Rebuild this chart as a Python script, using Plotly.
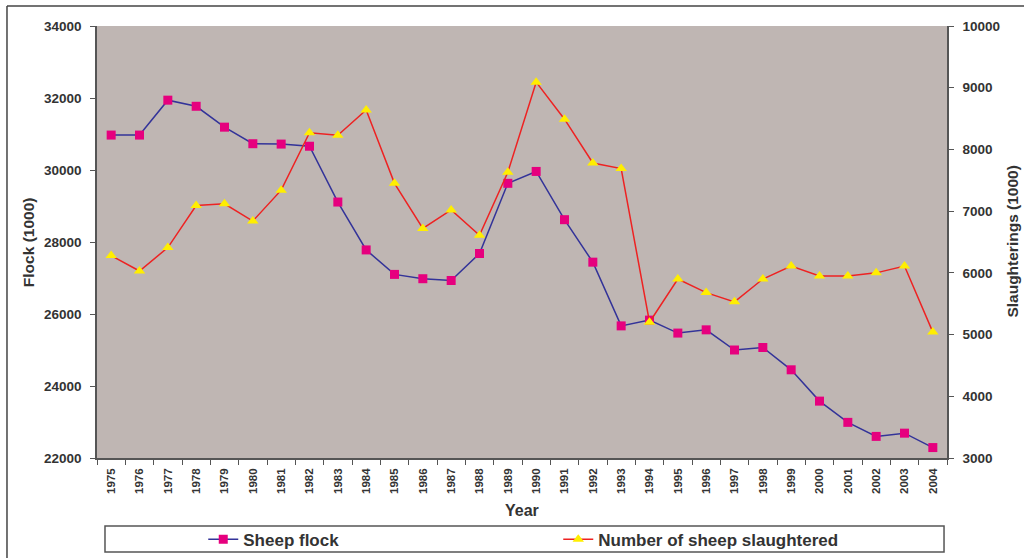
import plotly.graph_objects as go

years = [str(y) for y in range(1975, 2005)]

# Sheep flock (thousands)
flock = [30970, 30970, 31940, 31770, 31190, 30730, 30720, 30660, 29110, 27780,
         27100, 26980, 26930, 27680, 29630, 29960, 28620, 27440, 25670, 25830,
         25470, 25560, 25000, 25070, 24450, 23580, 22990, 22600, 22690, 22290]

# Number of sheep slaughtered (thousands)
slaughtered = [6280, 6030, 6410, 7090, 7120, 6840, 7340, 8270, 8230, 8640,
               7450, 6720, 7020, 6610, 7630, 9090, 8490, 7780, 7690, 5200,
               5900, 5680, 5530, 5900, 6110, 5950, 5950, 6000, 6110, 5040]

flock_ticks = [22000, 24000, 26000, 28000, 30000, 32000, 34000]
slaughter_ticks = [3000, 4000, 5000, 6000, 7000, 8000, 9000, 10000]

TXT = "#333333"
AX = "#555555"
FONT = "Liberation Sans"

fig = go.Figure()
fig.add_trace(go.Scatter(
    x=years, y=flock, name="Sheep flock", mode="lines+markers",
    line=dict(color="#333399", width=1.5),
    marker=dict(symbol="square", size=9, color="#e6007e", line=dict(width=0)),
))
fig.add_trace(go.Scatter(
    x=years, y=slaughtered, name="Number of sheep slaughtered", mode="lines+markers",
    yaxis="y2",
    line=dict(color="#ee2222", width=1.5),
    marker=dict(symbol="triangle-up", size=10, color="#ffee00", line=dict(width=0)),
))

ytickfont = dict(family=FONT, size=13.5, color=TXT, weight="bold")
xtickfont = dict(family=FONT, size=11.5, color=TXT, weight="bold")

fig.update_layout(
    width=1024, height=558,
    margin=dict(l=97, r=77, t=26, b=100, pad=0, autoexpand=False),
    paper_bgcolor="white",
    plot_bgcolor="#bfb6b3",
    showlegend=True,
    legend=dict(
        orientation="h", x=0.125, y=-0.189, xanchor="left", yanchor="middle",
        font=dict(family=FONT, size=17, color=TXT, weight="bold"),
        bgcolor="rgba(0,0,0,0)", borderwidth=0,
        entrywidth=310, entrywidthmode="pixels", itemwidth=30,
    ),
    xaxis=dict(
        type="category", range=[-0.5, 29.5], tickson="boundaries",
        ticks="outside", ticklen=5, tickcolor=AX, showline=True, linecolor=AX,
        linewidth=1.5, showgrid=False, tickangle=-90, tickfont=xtickfont,
        automargin=False, ticklabelstandoff=4,
    ),
    yaxis=dict(
        range=[22000, 34000], tickvals=flock_ticks, tickformat="d",
        ticks="outside", ticklen=5, tickcolor=AX, showline=True, linecolor=AX,
        linewidth=1.5, showgrid=False, zeroline=False, tickfont=ytickfont,
        ticklabelstandoff=6, automargin=False,
    ),
    yaxis2=dict(
        range=[3000, 10000], tickvals=slaughter_ticks, tickformat="d",
        overlaying="y", side="right", ticks="outside", ticklen=5, tickcolor=AX,
        showline=True, linecolor=AX, linewidth=1.5, showgrid=False,
        zeroline=False, tickfont=ytickfont, ticklabelstandoff=6, automargin=False,
    ),
    shapes=[
        # outer chart frame (top and left edges)
        dict(type="line", xref="paper", yref="paper", x0=-0.1059, x1=1.1,
             y0=1.0463, y1=1.0463, line=dict(color="#444444", width=1.5)),
        dict(type="line", xref="paper", yref="paper", x0=-0.1059, x1=-0.1059,
             y0=1.0463, y1=-0.24, line=dict(color="#444444", width=1.5)),
        # legend box
        dict(type="rect", xref="paper", yref="paper", x0=0.0094, x1=0.9965,
             y0=-0.2176, y1=-0.1574, line=dict(color="#555555", width=1.5),
             fillcolor="rgba(0,0,0,0)"),
    ],
    annotations=[
        dict(text="Year", xref="paper", yref="paper", x=0.5, y=-0.121,
             showarrow=False, xanchor="center", yanchor="middle",
             font=dict(family=FONT, size=16, color=TXT, weight="bold")),
        dict(text="Flock (1000)", xref="paper", yref="paper", x=-0.081, y=0.5,
             showarrow=False, textangle=-90, xanchor="center", yanchor="middle",
             font=dict(family=FONT, size=15.5, color=TXT, weight="bold")),
        dict(text="Slaughterings (1000)", xref="paper", yref="paper", x=1.076, y=0.5,
             showarrow=False, textangle=-90, xanchor="center", yanchor="middle",
             font=dict(family=FONT, size=15.5, color=TXT, weight="bold")),
    ],
)

fig.write_html("out.html")
